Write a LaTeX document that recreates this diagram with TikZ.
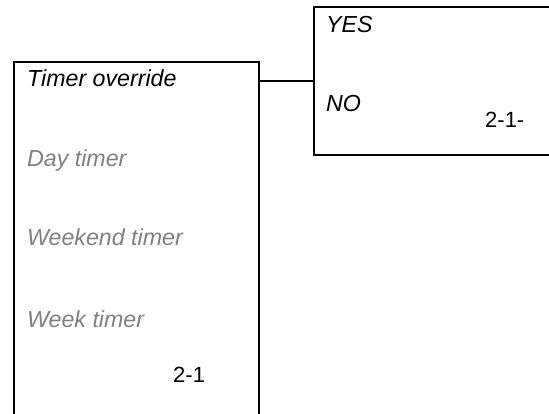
\documentclass[tikz,border=0pt]{standalone}
\usepackage{fontspec}
\setmainfont{Liberation Sans}
\definecolor{lblgray}{RGB}{128,128,128}
\begin{document}
\begin{tikzpicture}[x=1pt,y=-1pt,
  box/.style={draw, line width=2pt, inner sep=0pt, anchor=north west},
  lbl/.style={anchor=base west, inner sep=0pt, font=\fontsize{23.2}{27}\selectfont\itshape},
  dim/.style={lbl, text=lblgray},
  num/.style={anchor=base west, inner sep=0pt, font=\fontsize{22}{26}\selectfont}]
\useasboundingbox (0,0) rectangle (549,414);
\node[box, minimum width=245pt, minimum height=380pt] (left) at (13,61) {};
\node[box, minimum width=250pt, minimum height=148pt] (right) at (313,6) {};
\draw[line width=2pt] (left.east |- right.west) -- (right.west);
\node[lbl] (to) at (27,87) {Timer override};
\node[dim] (day) at (27,167) {Day timer};
\node[dim] (wkend) at (27,246) {Weekend timer};
\node[dim] (week) at (27,327) {Week timer};
\node[num] (n1) at (173,382) {2-1};
\node[lbl] (yes) at (326,33) {YES};
\node[lbl] (no) at (326,112) {NO};
\node[num] (n2) at (485,128) {2-1-};
\end{tikzpicture}
\end{document}
